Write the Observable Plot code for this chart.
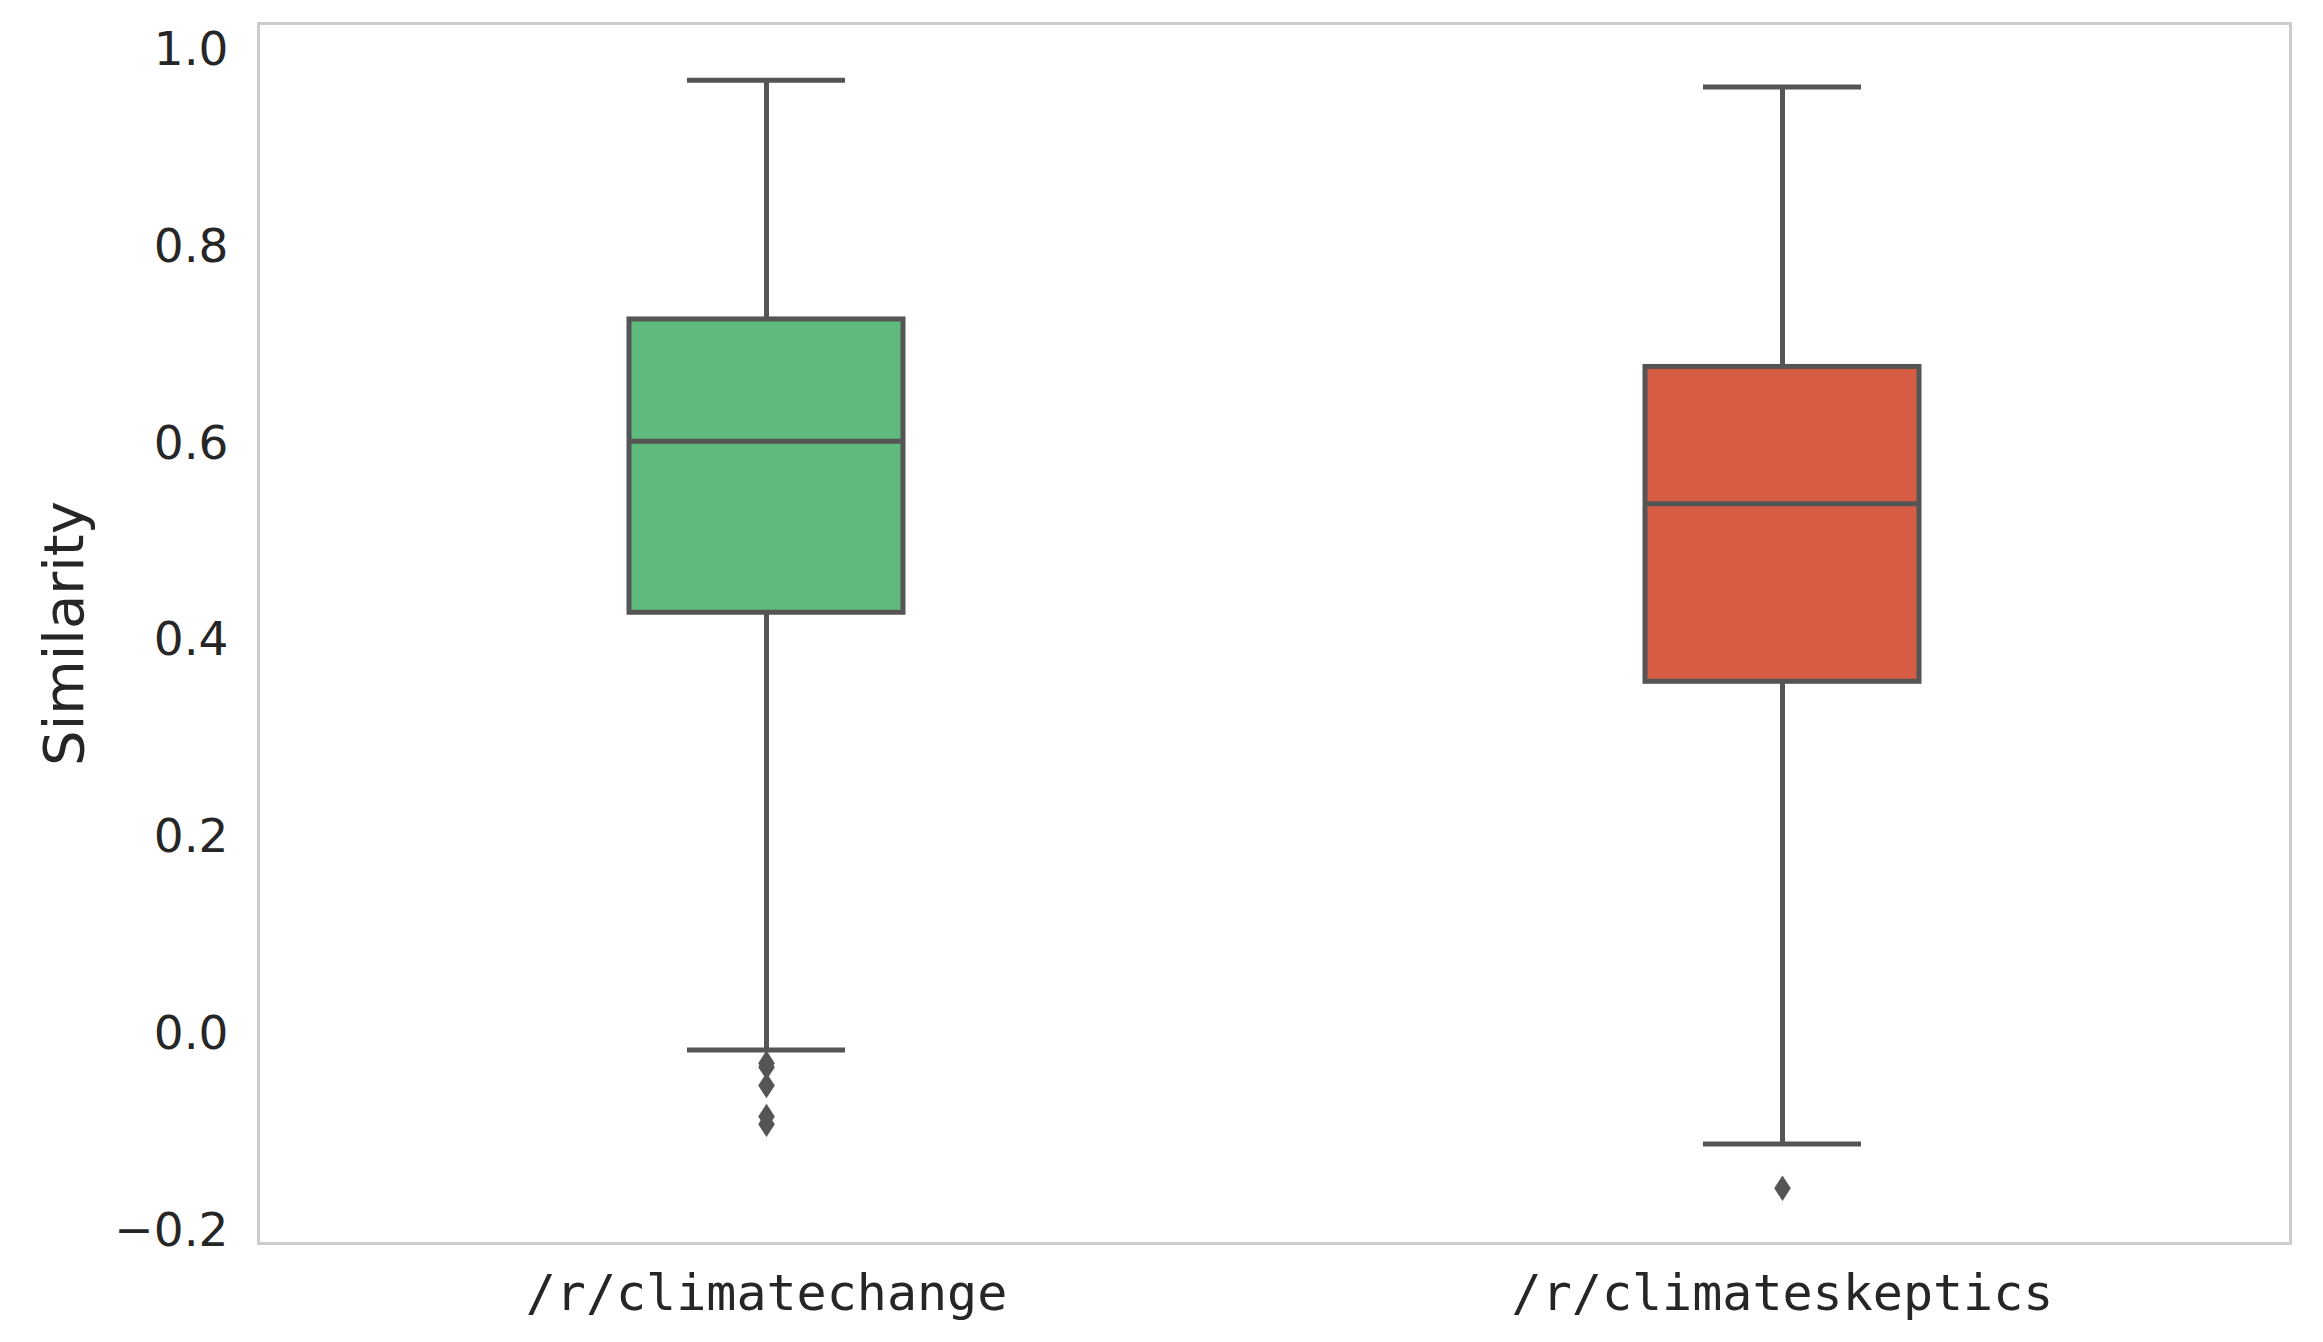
<!DOCTYPE html>
<html>
<head>
<meta charset="utf-8">
<script src="https://cdn.jsdelivr.net/npm/d3@7"></script>
<script src="https://cdn.jsdelivr.net/npm/@observablehq/plot@0.6"></script>
<style>
  html, body { margin: 0; padding: 0; background: #ffffff; }
  #chart svg { display: block; }
</style>
</head>
<body>
<div id="chart"></div>
<script>
// ---- data ----
const categories = ["/r/climatechange", "/r/climateskeptics"];
const colors = ["#5fba7d", "#d65d44"];
const whiskerLow = [-0.0165, -0.112];
const q1 = [0.4281, 0.3579];
const medians = [0.6025, 0.5389];
const q3 = [0.7263, 0.678];
const whiskerHigh = [0.9695, 0.9627];
const outliers = [
  [-0.0299, -0.0339, -0.0526, -0.0842, -0.0920],
  [-0.157]
];
const yTicks = [-0.2, 0.0, 0.2, 0.4, 0.6, 0.8, 1.0];
const yLabel = "Similarity";

// ---- tables built from the arrays ----
const boxes = categories.map((c, i) => ({
  cat: c, lo: whiskerLow[i], q1: q1[i], med: medians[i], q3: q3[i], hi: whiskerHigh[i]
}));
const outlierRows = categories.flatMap((c, i) => outliers[i].map(v => ({cat: c, v})));

const edge = "#555555";
const W = 2323, H = 1342;
const mL = 258, mR = 33, mT = 23, mB = 99;
const bandW = (W - mL - mR) / categories.length;
const boxW = 274, capW = 158;
const boxInset = (bandW - boxW) / 2;
const capInset = (bandW - capW) / 2;

const thinDiamond = {
  draw(ctx, size) {
    ctx.moveTo(0, -12.8);
    ctx.lineTo(8.3, 0);
    ctx.lineTo(0, 12.8);
    ctx.lineTo(-8.3, 0);
    ctx.closePath();
  }
};

const fmt = d3.format(".1f");

const chart = Plot.plot({
  width: W,
  height: H,
  marginLeft: mL,
  marginRight: mR,
  marginTop: mT,
  marginBottom: mB,
  style: {fontFamily: "DejaVu Sans", fontSize: "47px", color: "#262626", background: "#ffffff"},
  x: {type: "band", domain: categories, padding: 0, axis: null},
  y: {domain: [-0.2132, 1.0272], axis: null},
  color: {domain: categories, range: colors},
  marks: [
    Plot.frame({stroke: "#cccccc", strokeWidth: 3}),
    // whiskers
    Plot.ruleX(boxes, {x: "cat", y1: "q3", y2: "hi", stroke: edge, strokeWidth: 5}),
    Plot.ruleX(boxes, {x: "cat", y1: "lo", y2: "q1", stroke: edge, strokeWidth: 5}),
    // caps
    Plot.tickY(boxes, {x: "cat", y: "hi", stroke: edge, strokeWidth: 5, insetLeft: capInset, insetRight: capInset}),
    Plot.tickY(boxes, {x: "cat", y: "lo", stroke: edge, strokeWidth: 5, insetLeft: capInset, insetRight: capInset}),
    // boxes
    Plot.barY(boxes, {x: "cat", y1: "q1", y2: "q3", fill: "cat", stroke: edge, strokeWidth: 5, insetLeft: boxInset, insetRight: boxInset}),
    // medians
    Plot.tickY(boxes, {x: "cat", y: "med", stroke: edge, strokeWidth: 5, insetLeft: boxInset, insetRight: boxInset}),
    // outliers
    Plot.dot(outlierRows, {x: "cat", y: "v", symbol: thinDiamond, r: 5, fill: edge, stroke: null}),
    // axes
    Plot.axisY(yTicks, {tickSize: 0, tickPadding: 30, tickFormat: d => fmt(d), label: null, fontSize: 47}),
    Plot.axisX({tickSize: 0, tickPadding: 31, label: null, fontFamily: "DejaVu Sans Mono", fontSize: 50}),
    // y label
    Plot.text([yLabel], {frameAnchor: "left", textAnchor: "middle", rotate: -90, dx: -193, fontSize: 56, fill: "#262626"})
  ]
});

document.getElementById("chart").appendChild(chart);
</script>
</body>
</html>
